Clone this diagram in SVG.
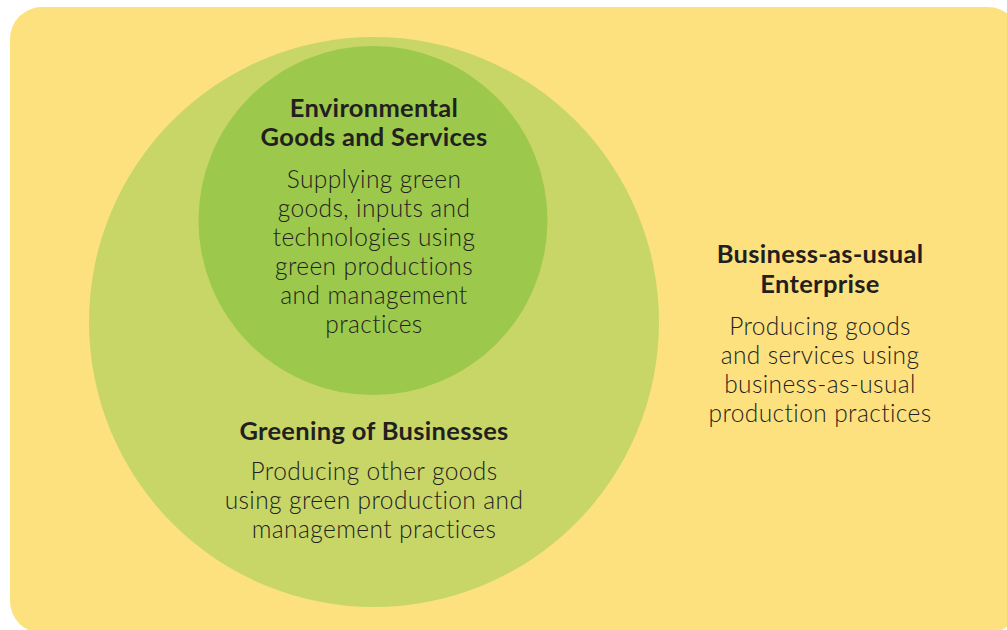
<svg xmlns="http://www.w3.org/2000/svg" width="1007" height="630" viewBox="0 0 1007 630">
  <style>
    .title { font-family: Lato, "Open Sans", "Liberation Sans", sans-serif; font-weight: 700; font-size: 25.5px; fill: #231f20; text-anchor: middle; letter-spacing: 0.3px; }
    .body { font-family: Lato, "Open Sans", "Liberation Sans", sans-serif; font-weight: 300; font-size: 24.5px; fill: #231f20; text-anchor: middle; letter-spacing: 0.4px; }
  </style>
  <rect width="1007" height="630" fill="#ffffff"/>
  <!-- Business-as-usual field -->
  <g id="business-as-usual">
    <rect x="10" y="7" width="1010" height="626" rx="32" ry="32" fill="#fee17f"/>
    <text class="title" x="820" y="263">Business-as-usual</text>
    <text class="title" x="820" y="293">Enterprise</text>
    <text class="body" x="820" y="335">Producing goods</text>
    <text class="body" x="820" y="364">and services using</text>
    <text class="body" x="820" y="393">business-as-usual</text>
    <text class="body" x="820" y="422">production practices</text>
  </g>
  <!-- Greening of businesses circle -->
  <g id="greening-of-businesses">
    <circle cx="374" cy="322" r="285" fill="#c8d668"/>
    <text class="title" x="374" y="440">Greening of Businesses</text>
    <text class="body" x="374" y="480">Producing other goods</text>
    <text class="body" x="374" y="509">using green production and</text>
    <text class="body" x="374" y="538">management practices</text>
  </g>
  <!-- Environmental goods and services circle -->
  <g id="environmental-goods">
    <circle cx="373" cy="220.5" r="174.5" fill="#9cc84b"/>
    <text class="title" x="374" y="117">Environmental</text>
    <text class="title" x="374" y="146">Goods and Services</text>
    <text class="body" x="374" y="188">Supplying green</text>
    <text class="body" x="374" y="217">goods, inputs and</text>
    <text class="body" x="374" y="246">technologies using</text>
    <text class="body" x="374" y="275">green productions</text>
    <text class="body" x="374" y="304">and management</text>
    <text class="body" x="374" y="333">practices</text>
  </g>
  <g id="connectors"/>
</svg>
